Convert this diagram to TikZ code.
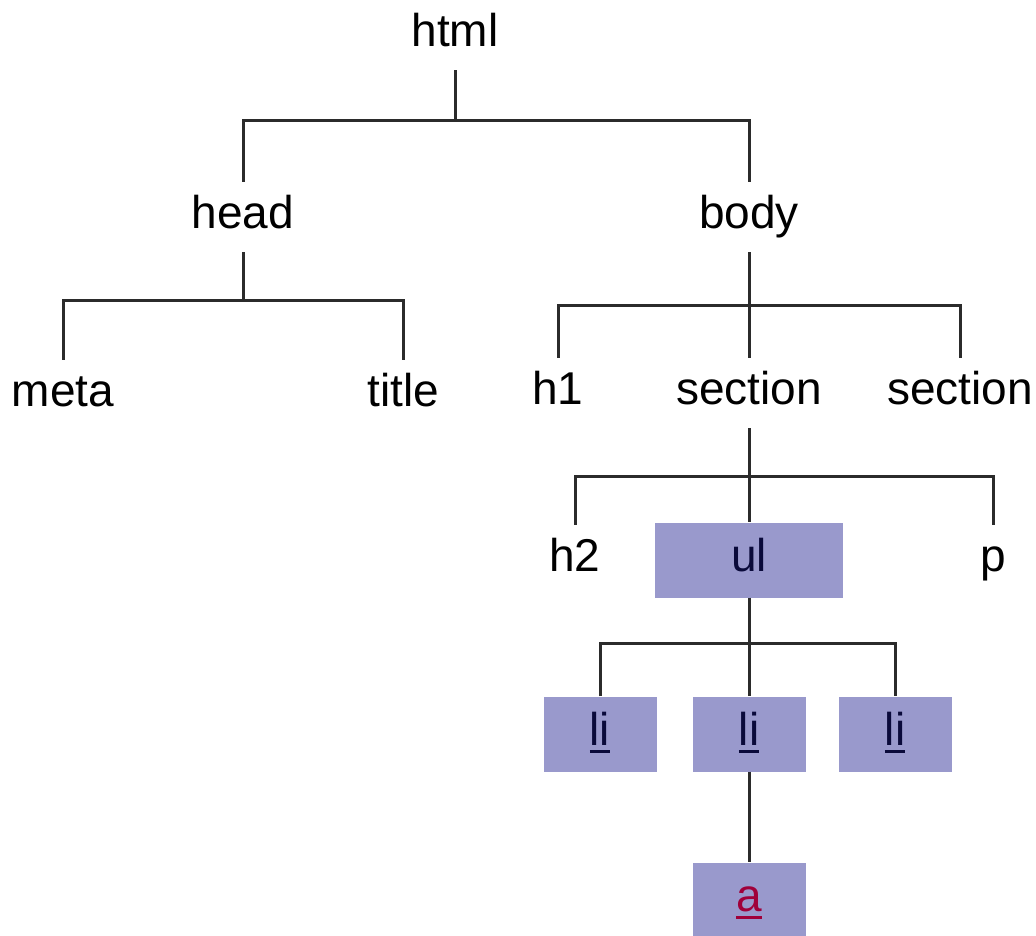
\documentclass[tikz,border=0pt]{standalone}
\usepackage{fontspec}
\setmainfont{Liberation Sans}

\definecolor{boxfill}{HTML}{9999CC}
\definecolor{boxtext}{HTML}{0A0A3A}
\definecolor{linkred}{HTML}{A0003A}
\definecolor{edgegray}{HTML}{2B2B2B}

\newcommand{\linktext}[1]{\setbox0\hbox{#1}\rlap{\copy0}\rule[-7pt]{\wd0}{2.2pt}}

\begin{document}
\begin{tikzpicture}[x=1pt, y=-1pt,
    tag/.style={inner sep=0pt, minimum height=70pt, text height=33pt, text depth=10pt,
      font=\fontsize{46}{50}\selectfont},
    elem/.style={tag, fill=boxfill, text=boxtext, minimum height=75pt},
    link/.style={edgegray, line width=3pt}]
      \useasboundingbox (0,0) rectangle (1036,935);

      \node[tag] (html) at (455,35) {html};
      \node[tag] (head) at (243,217) {head};
      \node[tag] (body) at (749,217) {body};
      \node[tag] (meta) at (63,395) {meta};
      \node[tag] (title) at (403,395) {title};
      \node[tag] (h1) at (558,393) {h1};
      \node[tag] (sec1) at (749,393) {section};
      \node[tag] (sec2) at (960,393) {section};
      \node[tag] (h2) at (575,560) {h2};
      \node[elem, minimum width=188pt] (ul) at (749,560) {ul};
      \node[tag] (p) at (993,560) {p};
      \node[elem, minimum width=113pt] (li1) at (600,734) {\linktext{li}};
      \node[elem, minimum width=113pt] (li2) at (749,734) {\linktext{li}};
      \node[elem, minimum width=113pt] (li3) at (895,734) {\linktext{li}};
      \node[elem, minimum width=113pt, text=linkred] (a) at (749,900) {\linktext{a}};

      \coordinate (j1) at (455,120);
      \coordinate (j2) at (243,300);
      \coordinate (j3) at (749,305);
      \coordinate (j4) at (749,476);
      \coordinate (j5) at (749,643);

      \draw[link] (html.south) -- (j1);
      \draw[link] (head.north) |- (j1) -| (body.north);
      \draw[link] (head.south) -- (j2);
      \draw[link] (meta.north) |- (j2) -| (title.north);
      \draw[link] (body.south) -- (sec1.north);
      \draw[link] (h1.north) |- (j3) -| (sec2.north);
      \draw[link] (sec1.south) -- (ul.north);
      \draw[link] (h2.north) |- (j4) -| (p.north);
      \draw[link] (ul.south) -- (li2.north);
      \draw[link] (li1.north) |- (j5) -| (li3.north);
      \draw[link] (li2.south) -- (a.north);
    \end{tikzpicture}
\end{document}
